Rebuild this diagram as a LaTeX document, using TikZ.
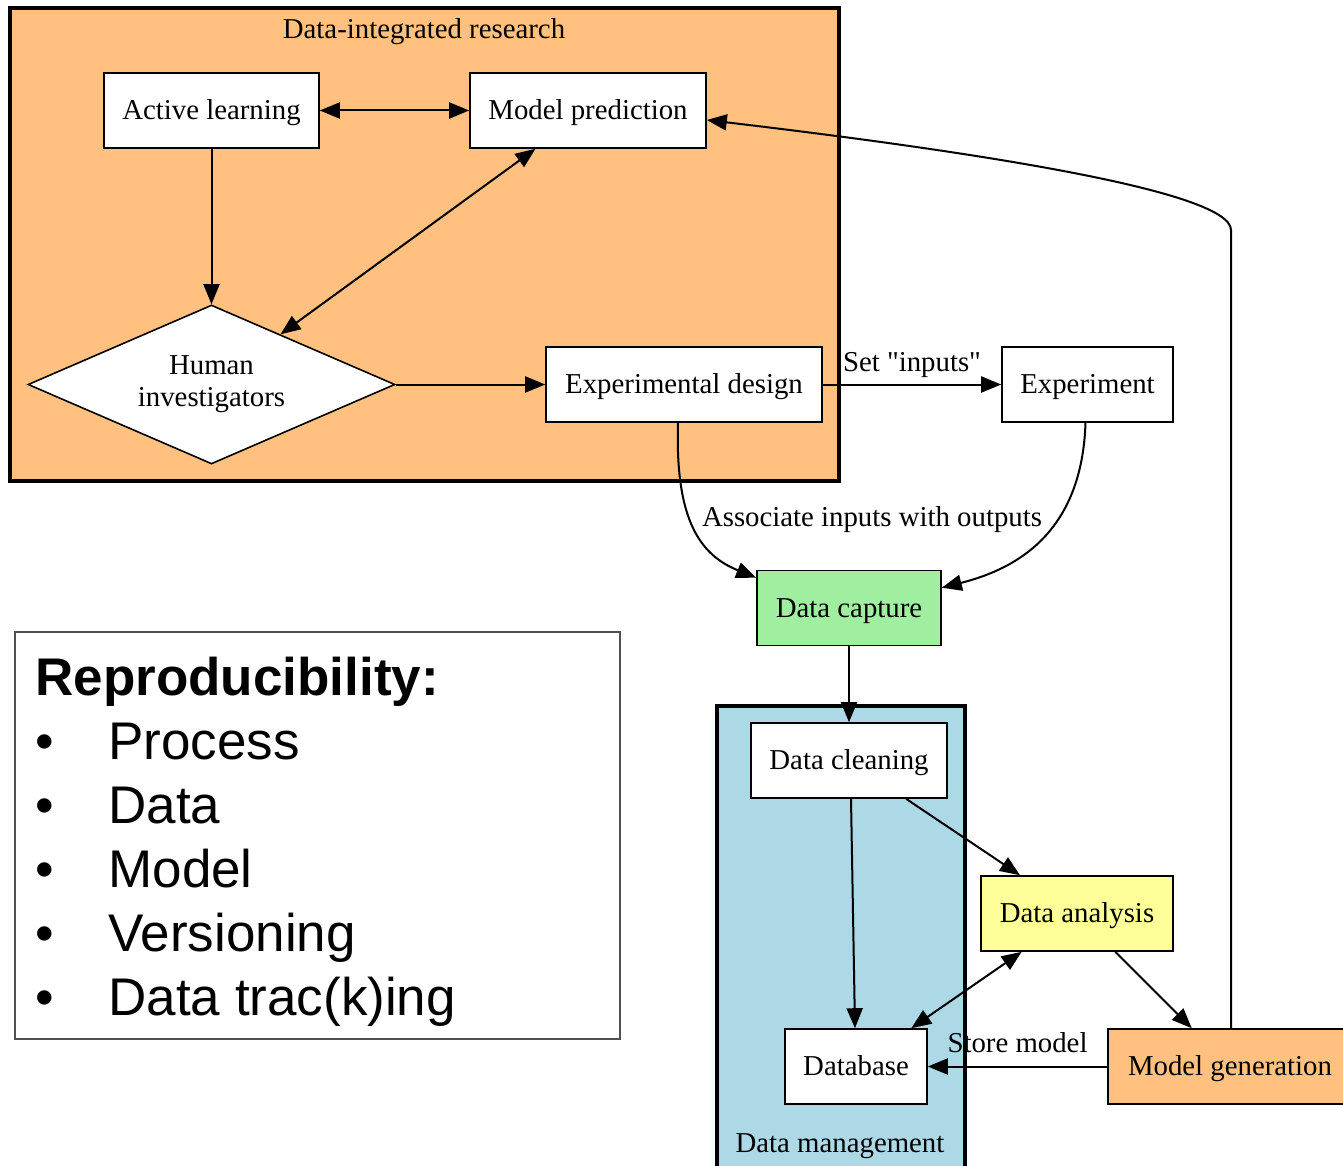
\documentclass[tikz,border=0pt]{standalone}
\usepackage{fontspec}
\setmainfont[Ligatures=TeXOff]{Liberation Serif}
\newfontfamily\listfont{Liberation Sans}
\usetikzlibrary{shapes.geometric,arrows.meta}

\definecolor{researchfill}{HTML}{FFC080}
\definecolor{managefill}{HTML}{ADD8E6}
\definecolor{capturefill}{HTML}{A0EEA0}
\definecolor{analysisfill}{HTML}{FFFF99}
\definecolor{listframe}{HTML}{505050}

\tikzset{
  box/.style={draw=black, line width=0.8pt, fill=white, rectangle, inner sep=0pt,
              minimum height=37.5pt, text height=11pt, text depth=2pt,
              font=\fontsize{14.4pt}{16pt}\selectfont},
  cluster/.style={draw=black, line width=1.7pt},
  clusterlabel/.style={font=\fontsize{14.4pt}{16pt}\selectfont, inner sep=0pt,
              text height=11pt, text depth=2pt},
  edgelabel/.style={font=\fontsize{14.4pt}{16pt}\selectfont, inner sep=0pt,
              text height=11pt, text depth=2pt},
  flow/.style={line width=1pt, -{Triangle[length=10pt,width=8pt]}},
  twoway/.style={line width=1pt, {Triangle[length=10pt,width=8pt]}-{Triangle[length=10pt,width=8pt]}},
  listtext/.style={font=\listfont\fontsize{26.5pt}{30pt}\selectfont, anchor=base west, inner sep=0pt},
}

\begin{document}
\begin{tikzpicture}[x=0.5pt, y=-0.5pt]
  \clip (0,0) rectangle (1343,1166);
  \fill[white] (0,0) rectangle (1343,1166);

  % clusters
  \draw[cluster, fill=researchfill] (10,8) rectangle (839,481);
  \node[clusterlabel] (researchtitle) at (424,30) {Data-integrated research};
  \draw[cluster, fill=managefill] (717,706) rectangle (965,1180);
  \node[clusterlabel] (managetitle) at (840,1143) {Data management};

  % nodes of the research cluster
  \node[box, minimum width=107.5pt] (al) at (211.5,110.5) {Active learning};
  \node[box, minimum width=118pt] (mp) at (588,110.5) {Model prediction};
  \node[draw=black, line width=0.8pt, fill=white, diamond, shape aspect=2.31,
        inner sep=0pt, minimum width=183.5pt, minimum height=79.5pt, align=center,
        font=\fontsize{14.4pt}{16pt}\selectfont] (hi) at (211.5,384.5) {Human\\investigators};
  \node[box, minimum width=138pt] (ed) at (684,384.5) {Experimental design};

  % remaining process nodes
  \node[box, minimum width=85.5pt] (ex) at (1087.5,384.5) {Experiment};
  \node[box, minimum width=92pt, fill=capturefill] (dc) at (849,608) {Data capture};
  \node[box, minimum width=98pt] (cl) at (849,760.5) {Data cleaning};
  \node[box, minimum width=96pt, fill=analysisfill] (da) at (1077,913.5) {Data analysis};
  \node[box, minimum width=71pt] (db) at (856,1066.5) {Database};
  \node[box, minimum width=122pt, fill=researchfill] (mg) at (1230,1066.5) {Model generation};

  % connectors
  \draw[twoway] (al) -- (mp);
  \draw[flow] (al) -- (hi);
  \draw[twoway] (hi) -- (mp);
  \draw[flow] (hi.east) -- (ed.west);
  \draw[flow] (ed) -- node[edgelabel, midway, yshift=11pt] {Set "inputs"} (ex);
  \draw[flow] ([xshift=-3pt]ed.south) .. controls (675,520) and (700,555) .. ([yshift=-4pt]dc.north west);
  \node[edgelabel] (assoc) at (872,517) {Associate inputs with outputs};
  \draw[flow] ([xshift=-1pt]ex.south) .. controls (1082,530) and (1020,568) .. ([yshift=-9pt]dc.north east);
  \draw[flow] (dc) -- (cl);
  \draw[flow] ([xshift=1pt]cl.south) -- ([xshift=-0.5pt]db.north);
  \draw[flow] (cl) -- (da);
  \draw[twoway] (da) -- (db);
  \draw[flow] (da) -- (mg);
  \draw[flow] (mg) -- node[edgelabel, midway, yshift=11.75pt] {Store model} (db);
  \coordinate (turn) at (1231,230);
  \draw[flow] ([xshift=0.5pt]mg.north) -- (turn) .. controls (1231,190) and (960,150) .. ([yshift=-4.75pt]mp.east);

  % reproducibility panel
  \draw[draw=listframe, line width=1pt] (15,632) rectangle (620,1039);
  \node[listtext, font=\listfont\bfseries\fontsize{26.5pt}{30pt}\selectfont] (rhead) at (35,695) {Reproducibility:};
  \foreach \name/\txt/\yy in {p/Process/759, d/Data/823, m/Model/887, v/Versioning/951, t/{Data trac(k)ing}/1015}{
    \node[listtext] (bul\name) at (35,\yy) {•};
    \node[listtext] (item\name) at (108,\yy) {\txt};
  }
\end{tikzpicture}
\end{document}
